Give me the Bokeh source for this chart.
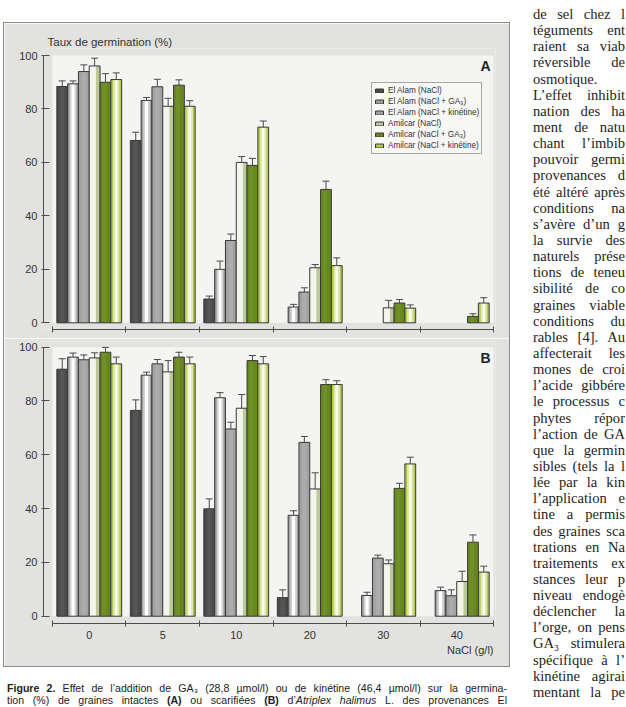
from bokeh.plotting import figure
from bokeh.models import (ColumnDataSource, FixedTicker, Legend, LegendItem, Label, Title,
                          Whisker, TeeHead, BoxAnnotation, Div, Spacer, Range1d)
from bokeh.layouts import column, row
from bokeh.embed import file_html
from bokeh.resources import INLINE

# ---------------- data ----------------
nacl_levels = ["0", "5", "10", "20", "30", "40"]
series_names = ["El Alam (NaCl)", "El Alam (NaCl + GA₃)", "El Alam (NaCl + kinétine)",
                "Amilcar (NaCl)", "Amilcar (NaCl + GA₃)", "Amilcar (NaCl + kinétine)"]

# Panel A : graines intactes (mean, standard error)
elalam_nacl_A = [88.4, 68.2, 8.9, 0, 0, 0]
elalam_nacl_A_se = [2.1, 3.1, 1.1, 0, 0, 0]
elalam_ga3_A = [89.4, 83.2, 20.0, 5.9, 0, 0]
elalam_ga3_A_se = [1.1, 1.1, 3.1, 1.0, 0, 0]
elalam_kin_A = [94.0, 88.3, 30.8, 11.5, 0, 0]
elalam_kin_A_se = [2.5, 2.8, 2.4, 1.6, 0, 0]
amilcar_nacl_A = [96.1, 81.0, 60.0, 20.6, 5.6, 0]
amilcar_nacl_A_se = [2.9, 3.0, 2.2, 1.2, 2.8, 0]
amilcar_ga3_A = [90.0, 88.9, 58.9, 49.9, 7.4, 2.4]
amilcar_ga3_A_se = [3.2, 2.0, 2.6, 3.1, 1.3, 1.0]
amilcar_kin_A = [91.0, 81.0, 73.2, 21.4, 5.5, 7.4]
amilcar_kin_A_se = [2.5, 2.1, 2.3, 2.9, 1.2, 2.0]

# Panel B : graines scarifiees
elalam_nacl_B = [91.8, 76.5, 39.9, 6.9, 0, 0]
elalam_nacl_B_se = [3.9, 3.9, 3.7, 2.9, 0, 0]
elalam_ga3_B = [96.3, 89.6, 81.2, 37.5, 7.7, 9.5]
elalam_ga3_B_se = [1.5, 1.1, 1.9, 1.7, 1.2, 1.3]
elalam_kin_B = [95.3, 93.8, 69.6, 64.6, 21.6, 7.6]
elalam_kin_B_se = [1.8, 1.6, 2.5, 2.2, 1.1, 2.2]
amilcar_nacl_B = [96.0, 90.8, 77.3, 47.3, 19.5, 12.9]
amilcar_nacl_B_se = [1.9, 4.2, 5.1, 6.0, 1.4, 3.8]
amilcar_ga3_B = [98.1, 96.3, 95.0, 86.1, 47.5, 27.5]
amilcar_ga3_B_se = [1.8, 1.8, 1.9, 1.8, 1.9, 2.7]
amilcar_kin_B = [93.8, 93.8, 93.8, 86.1, 56.6, 16.4]
amilcar_kin_B_se = [2.5, 2.5, 2.7, 1.4, 2.5, 2.2]

y_ticks = [0, 20, 40, 60, 80, 100]

panel_A = ([elalam_nacl_A, elalam_ga3_A, elalam_kin_A, amilcar_nacl_A, amilcar_ga3_A, amilcar_kin_A],
           [elalam_nacl_A_se, elalam_ga3_A_se, elalam_kin_A_se, amilcar_nacl_A_se, amilcar_ga3_A_se, amilcar_kin_A_se])
panel_B = ([elalam_nacl_B, elalam_ga3_B, elalam_kin_B, amilcar_nacl_B, amilcar_ga3_B, amilcar_kin_B],
           [elalam_nacl_B_se, elalam_ga3_B_se, elalam_kin_B_se, amilcar_nacl_B_se, amilcar_ga3_B_se, amilcar_kin_B_se])

# ---------------- styles ----------------
BOX_GRAY = "#e2e2e0"
INNER = "#f4f4f2"
AXIS = "#4d4d4d"
TXT = "#333333"
FONT = "Liberation Sans"
BAR_W = 0.147

bar_styles = [
    dict(base="#4a4a4a", layers=[(0.45, 0.0, "#565656")]),
    dict(base="#9e9e9e", layers=[(0.62, 0.0, "#d2d2d2"), (0.28, 0.0, "#ffffff")]),
    dict(base="#a2a2a2", layers=[(0.4, 0.0, "#acacac")]),
    dict(base="#bcc79a", layers=[(0.62, -0.19, "#f3f4ec")]),
    dict(base="#66861f", layers=[(0.4, -0.1, "#6f8f27")]),
    dict(base="#b2c957", layers=[(0.6, 0.0, "#d8e5a0"), (0.26, 0.0, "#f9fbea")]),
]


def make_panel(values, errors, letter, top_panel):
    n = len(nacl_levels)
    if top_panel:
        p = figure(width=505, height=315, x_range=Range1d(-0.1224, 6.027),
                   y_range=Range1d(-2.5, 102.62), min_border_left=39, min_border_right=14,
                   min_border_top=25, min_border_bottom=9,
                   toolbar_location=None, output_backend="svg")
        p.title.text = "Taux de germination (%)"
        p.title.align = "left"
        p.title.offset = 4
        p.title.standoff = 1
        p.title.text_font = FONT
        p.title.text_font_size = "11.5px"
        p.title.text_font_style = "normal"
        p.title.text_color = TXT
    else:
        p = figure(width=505, height=328, x_range=Range1d(-0.1224, 6.027),
                   y_range=Range1d(-2.71, 102.1), min_border_left=39, min_border_right=14,
                   min_border_top=3, min_border_bottom=43,
                   toolbar_location=None, output_backend="svg")
    p.border_fill_color = BOX_GRAY
    p.background_fill_color = BOX_GRAY
    p.outline_line_color = None
    p.grid.visible = False

    p.add_layout(BoxAnnotation(left=0, right=n, bottom=0, top=max(y_ticks),
                               fill_color=INNER, fill_alpha=1, line_color=None, level="image"))

    legend_items = []
    for j, (vals, errs) in enumerate(zip(values, errors)):
        off = (j - 2.5) * BAR_W
        idx = [i for i, v in enumerate(vals) if v > 0]
        xs = [i + 0.5 + off for i in idx]
        data = dict(x=xs, top=[vals[i] for i in idx], upper=[vals[i] + errs[i] for i in idx])
        st = bar_styles[j]
        for k, (frac, shift, col) in enumerate(st["layers"]):
            data["x%d" % k] = [x + shift * BAR_W for x in xs]
        src = ColumnDataSource(data)
        base = p.vbar(x="x", top="top", bottom=0, width=BAR_W, source=src,
                      fill_color=st["base"], line_color=None)
        for k, (frac, shift, col) in enumerate(st["layers"]):
            p.vbar(x="x%d" % k, top="top", bottom=0, width=BAR_W * frac, source=src,
                   fill_color=col, line_color=None)
        outline = p.vbar(x="x", top="top", bottom=0, width=BAR_W, source=src,
                         fill_color=None, line_color="#3a3a3a", line_width=1)
        w = Whisker(source=src, base="x", upper="upper", lower="top", dimension="height",
                    line_color="#4a4a4a", line_width=1, level="annotation",
                    upper_head=TeeHead(size=7, line_color="#4a4a4a", line_width=1),
                    lower_head=None)
        p.add_layout(w)
        legend_items.append(LegendItem(label=series_names[j], renderers=[base, outline]))

    # y axis
    ya = p.yaxis[0]
    ya.ticker = FixedTicker(ticks=y_ticks)
    ya.bounds = (0, max(y_ticks))
    ya.major_tick_in = 6
    ya.major_tick_out = 2
    ya.minor_tick_line_color = None
    ya.axis_line_color = AXIS
    ya.major_tick_line_color = AXIS
    ya.major_label_standoff = 4
    ya.major_label_text_font = FONT
    ya.major_label_text_font_size = "11px"
    ya.major_label_text_color = TXT

    # x axis
    xa = p.xaxis[0]
    centers = [i + 0.5 for i in range(n)]
    bounds = list(range(n + 1))
    if top_panel:
        xa.ticker = FixedTicker(ticks=[], minor_ticks=bounds)
    else:
        xa.ticker = FixedTicker(ticks=centers, minor_ticks=bounds)
        xa.major_label_overrides = {c: lab for c, lab in zip(centers, nacl_levels)}
    xa.bounds = (0, n)
    xa.major_tick_in = 0
    xa.major_tick_out = 0
    xa.minor_tick_in = 3
    xa.minor_tick_out = 3
    xa.axis_line_color = AXIS
    xa.minor_tick_line_color = AXIS
    xa.major_label_standoff = 4
    xa.major_label_text_font = FONT
    xa.major_label_text_font_size = "11px"
    xa.major_label_text_color = TXT

    p.add_layout(Label(x=n, y=96, x_offset=-3, text=letter, text_align="right",
                       text_baseline="middle", text_font=FONT, text_font_size="14px",
                       text_font_style="bold", text_color="#222222"))

    if top_panel:
        lg = Legend(items=legend_items, location=(328, 175), orientation="vertical",
                    label_text_font=FONT, label_text_font_size="8.2px", label_text_color=TXT,
                    glyph_width=10, glyph_height=5, label_height=11, label_standoff=4,
                    spacing=0, padding=2, margin=0, border_line_color="#555555",
                    border_line_width=1, background_fill_color="#f7f7f5", background_fill_alpha=1)
        p.add_layout(lg)
    else:
        p.add_layout(Title(text="NaCl (g/l)", align="right", offset=2, standoff=0,
                           text_font=FONT, text_font_size="11px", text_font_style="normal",
                           text_color=TXT), "below")
    return p


pA = make_panel(panel_A[0], panel_A[1], "A", True)
pB = make_panel(panel_B[0], panel_B[1], "B", False)

box = column(pA, pB, styles={"border": "1px solid #8a8a8a"})

caption_html = (
    '<div style="font-family:\'Liberation Sans\';font-size:10.6px;line-height:12px;color:#222;'
    'width:500px;">'
    '<div style="white-space:nowrap;text-align:justify;text-align-last:justify;height:12px;">'
    '<b>Figure 2.</b> Effet de l’addition de GA₃ '
    '(28,8 µmol/l) ou de kinétine (46,4 µmol/l) sur la germina-</div>'
    '<div style="white-space:nowrap;text-align:justify;text-align-last:justify;height:12px;">'
    'tion (%) de graines intactes <b>(A)</b> ou scarifiées <b>(B)</b> d’<i>Atriplex halimus</i> '
    'L. des provenances El</div></div>'
)
caption = Div(text=caption_html, width=500, height=24, margin=0, styles={"overflow": "hidden"})

side_lines = [
    "de sel chez l", "téguments ent", "raient sa viab", "réversible de", "osmotique.",
    "L’effet inhibit", "nation des ha", "ment de natu", "chant l’imbib", "pouvoir germi",
    "provenances d", "été altéré après", "conditions na", "s’avère d’un g", "la survie des",
    "naturels prése", "tions de teneu", "sibilité de co", "graines viable", "conditions du",
    "rables [4]. Au", "affecterait les", "mones de croi", "l’acide gibbére", "le processus c",
    "phytes répor", "l’action de GA", "que la germin", "sibles (tels la l", "lée par la kin",
    "l’application e", "tine a permis", "des graines sca", "trations en Na", "traitements ex",
    "stances leur p", "niveau endogè", "déclencher la", "l’orge, on pens", "GA₃ stimulera",
    "spécifique à l’", "kinétine agirai", "mentant la pe",
]
side_html = ('<div style="font-family:\'Liberation Serif\';font-size:14.6px;line-height:16.14px;'
             'color:#1e1e1e;width:92px;">')
for ln in side_lines:
    just = "left" if ln == "osmotique." else "justify"
    side_html += ('<div style="white-space:nowrap;text-align:justify;'
                  'text-align-last:%s;">%s</div>' % (just, ln))
side_html += "</div>"
side = Div(text=side_html, width=92, height=700, margin=0, styles={"overflow": "hidden"})

left = column(Spacer(height=22), row(Spacer(width=3), box), Spacer(height=15),
              row(Spacer(width=7), caption))
page = row(left, Spacer(width=23), column(Spacer(height=6), side))

open("out.html", "w").write(file_html(page, INLINE))
